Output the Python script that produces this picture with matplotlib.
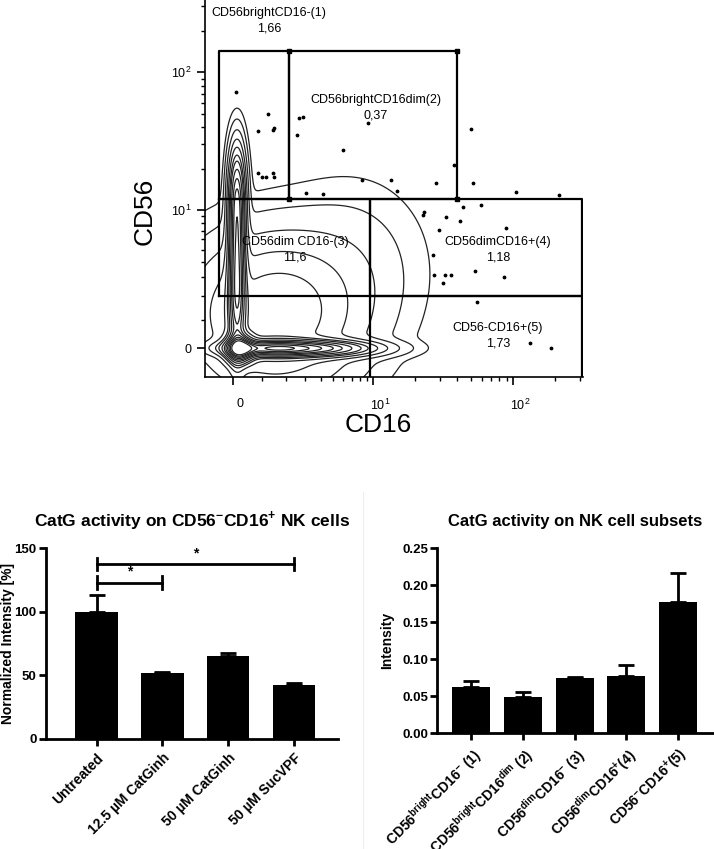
import numpy as np
import matplotlib
matplotlib.use("Agg")
import matplotlib.pyplot as plt
import matplotlib.transforms as mtransforms
from matplotlib.lines import Line2D

plt.rcParams['font.family'] = ['Liberation Sans', 'DejaVu Sans']
plt.rcParams['mathtext.fontset'] = 'custom'
plt.rcParams['mathtext.rm'] = 'Liberation Sans'
plt.rcParams['mathtext.bf'] = 'Liberation Sans:bold'

# ---------------- data ----------------
# flow cytometry gates (CD16 range, CD56 range)
gate_names = ["CD56brightCD16-(1)", "CD56brightCD16dim(2)", "CD56dim CD16-(3)",
              "CD56dimCD16+(4)", "CD56-CD16+(5)"]
gate_pcts = ["1,66", "0,37", "11,6", "1,18", "1,73"]
gate_cd16 = [(-0.46, 2.1), (2.1, 40), (-0.46, 9.5), (9.5, 310), (9.5, 310)]
gate_cd56 = [(12, 143), (12, 143), (2.0, 12), (2.0, 12), (-1.3, 2.0)]

# cell populations (centre / spread in log-decades of the display, relative weight)
pop_u = [0.03, 0.03, 0.03, 0.25, 0.60, 0.05, 0.30, 0.85]
pop_v = [0.35, 0.80, 1.15, 0.00, 0.00, 0.00, 0.25, 0.60]
pop_su = [0.035, 0.035, 0.035, 0.20, 0.25, 0.06, 0.35, 0.30]
pop_sv = [0.25, 0.25, 0.20, 0.035, 0.035, 0.06, 0.33, 0.35]
pop_w = [0.8, 0.8, 0.6, 1.0, 0.8, 1.5, 0.30, 0.04]
contour_levels = [0.0084, 0.025, 0.063, 0.126, 0.21, 0.32, 0.42, 0.57, 0.74, 0.9,
                  1.1, 1.3, 1.5, 1.75]

# single events outside the contours
event_cd16 = [0.10, 1.23, 0.86, 1.40, 1.45, 2.52, 2.63, 2.87, 5.92, 9.16, 0.86, 1.00,
              1.16, 1.42, 1.45, 8.22, 13.4, 14.8, 28.2, 37.9, 51.5, 105, 214, 49.9,
              3.05, 4.19, 23.2, 22.8, 33.2, 44.2, 59.0, 41.8, 29.8, 88.9, 26.7, 27.4,
              31.8, 32.9, 36.1, 53.6, 86.3, 55.0, 186, 132]
event_cd56 = [72.3, 49.6, 37.6, 38.2, 39.7, 35.1, 46.4, 47.2, 27.3, 43.1, 18.5, 17.5,
              17.3, 18.5, 17.5, 16.5, 16.5, 13.8, 15.7, 21.3, 15.7, 13.5, 12.8, 38.8,
              13.3, 13.1, 9.7, 9.15, 8.8, 10.4, 10.8, 8.2, 7.05, 7.3, 4.53, 3.1,
              2.63, 3.1, 3.1, 3.38, 3.0, 1.72, 0.0, 0.17]

# bar chart 1
treatments = ["Untreated", "12.5 µM CatGinh", "50 µM CatGinh", "50 µM SucVPF"]
norm_intensity = [100, 51.7, 65.6, 42.2]
norm_err = [13.5, 1.3, 2.3, 1.6]
sig_pairs = [(0, 1, 123, "*"), (0, 3, 137.7, "*")]

# bar chart 2
subsets = [r"CD56$^{\mathbf{bright}}$CD16$^{\mathbf{-}}$ (1)",
           r"CD56$^{\mathbf{bright}}$CD16$^{\mathbf{dim}}$ (2)",
           r"CD56$^{\mathbf{dim}}$CD16$^{\mathbf{-}}$ (3)",
           r"CD56$^{\mathbf{dim}}$CD16$^{\mathbf{+}}$(4)",
           r"CD56$^{\mathbf{-}}$CD16$^{\mathbf{+}}$(5)"]
subset_intensity = [0.0631, 0.0495, 0.0752, 0.0775, 0.177]
subset_err = [0.0081, 0.0068, 0.0014, 0.0148, 0.040]


# biexponential-like display scale of the cytometer
def fwd(a):
    return np.arcsinh(np.asarray(a, dtype=float) / 2) / np.log(10)


def inv(u):
    return 2 * np.sinh(np.asarray(u, dtype=float) * np.log(10))


fig = plt.figure(figsize=(7.14, 8.49), dpi=100)

# ---------------- flow plot ----------------
ax = fig.add_axes([0.287, 0.556, 0.5294, 0.444])
ax.set_xscale('function', functions=(fwd, inv))
ax.set_yscale('function', functions=(fwd, inv))

U, V = np.meshgrid(np.linspace(-0.3, 2.7, 500), np.linspace(-0.3, 2.7, 500))
Z = np.zeros_like(U)
for uc, vc, su, sv, w in zip(pop_u, pop_v, pop_su, pop_sv, pop_w):
    Z += w * np.exp(-0.5 * ((U - uc) / su) ** 2 - 0.5 * ((V - vc) / sv) ** 2)
ax.contour(inv(U), inv(V), Z, levels=contour_levels, colors='#222222', linewidths=0.9)

ax.scatter(event_cd16, event_cd56, s=3, color='black', zorder=3)

for (x0, x1), (y0, y1) in zip(gate_cd16, gate_cd56):
    ax.plot([x0, x1, x1, x0, x0], [y0, y0, y1, y1, y0], color='black', lw=1.6, zorder=4)
# corner handles of gate 2
gx, gy = gate_cd16[1], gate_cd56[1]
ax.plot([gx[0], gx[1], gx[0], gx[1]], [gy[0], gy[0], gy[1], gy[1]], 's',
        color='black', ms=3.5, zorder=5)

label_pos = [(0.169, 0.9655), (0.452, 0.735), (0.238, 0.358), (0.775, 0.358), (0.775, 0.130)]
for (tx, ty), name, pct in zip(label_pos, gate_names, gate_pcts):
    ax.text(tx, ty, name, transform=ax.transAxes, ha='center', va='center', fontsize=9)
    ax.text(tx, ty - 0.041, pct, transform=ax.transAxes, ha='center', va='center', fontsize=9)

ax.set_xlim(-0.95, 316)
ax.set_ylim(-0.99, 334)
major = [0, 10, 100]
minor = [1, 2, 3, 4, 5, 6, 7, 8, 9, 20, 30, 40, 50, 60, 70, 80, 90, 200, 300]
ax.set_xticks(major)
ax.set_xticklabels(['0', r'$10^1$', r'$10^2$'])
ax.set_xticks(minor, minor=True)
ax.set_xticklabels([], minor=True)
ax.set_yticks(major)
ax.set_yticklabels(['0', r'$10^1$', r'$10^2$'])
ax.set_yticks(minor, minor=True)
ax.set_yticklabels([], minor=True)
ax.tick_params(which='major', length=6, width=1.2, labelsize=9)
ax.tick_params(axis='x', which='major', pad=9)
ax.tick_params(which='minor', length=3, width=1.0)
# x tick labels sit a little to the right of their ticks
shift = mtransforms.ScaledTranslation(5 / 72, 0, fig.dpi_scale_trans)
for lab in ax.get_xticklabels():
    lab.set_transform(lab.get_transform() + shift)
for s in ['top', 'right']:
    ax.spines[s].set_visible(False)
for s in ['left', 'bottom']:
    ax.spines[s].set_linewidth(1.2)
ax.set_xlabel('CD16', fontsize=19)
ax.xaxis.set_label_coords(0.458, -0.095)
ax.set_ylabel('CD56', fontsize=19)
ax.yaxis.set_label_coords(-0.127, 0.438)


def style_bar_axes(a):
    for s in ['top', 'right']:
        a.spines[s].set_visible(False)
    for s in ['left', 'bottom']:
        a.spines[s].set_linewidth(2.0)
    a.tick_params(length=5, width=2.0, labelsize=10)
    a.tick_params(axis='y', pad=1.5, labelsize=9.5)
    for lab in a.get_yticklabels():
        lab.set_fontweight('bold')


# ---------------- bar chart 1 ----------------
ax1 = fig.add_axes([0.064, 0.1296, 0.409, 0.2246])
x1 = np.arange(len(treatments))
ax1.bar(x1, norm_intensity, width=0.65, color='black')
ax1.errorbar(x1, norm_intensity, yerr=[np.zeros(len(x1)), norm_err], fmt='none',
             ecolor='black', elinewidth=2, capsize=6, capthick=2)
for i, j, h, lab in sig_pairs:
    ax1.plot([x1[i], x1[j]], [h, h], color='black', lw=2)
    ax1.plot([x1[i], x1[i]], [h - 5, h + 5], color='black', lw=2)
    ax1.plot([x1[j], x1[j]], [h - 5, h + 5], color='black', lw=2)
    ax1.text((x1[i] + x1[j]) / 2, h + 3, lab, ha='center', va='bottom',
             fontsize=10, fontweight='bold')
ax1.set_xlim(-0.775, 3.667)
ax1.set_ylim(0, 150)
ax1.set_yticks([0, 50, 100, 150])
ax1.set_xticks(x1)
ax1.set_xticklabels(treatments, rotation=45, ha='right', rotation_mode='anchor',
                    fontweight='bold')
style_bar_axes(ax1)
ax1.set_ylabel('Normalized Intensity [%]', fontsize=10, fontweight='bold')
ax1.yaxis.set_label_coords(-0.104, 0.5)
ax1.set_title(r'CatG activity on CD56$^{\mathbf{-}}$CD16$^{\mathbf{+}}$ NK cells',
              fontsize=12.5, fontweight='bold', pad=16)

# ---------------- bar chart 2 ----------------
ax2 = fig.add_axes([0.6125, 0.1363, 0.386, 0.2179])
x2 = np.arange(len(subsets))
ax2.bar(x2, subset_intensity, width=0.74, color='black')
ax2.errorbar(x2, subset_intensity, yerr=[np.zeros(len(x2)), subset_err], fmt='none',
             ecolor='black', elinewidth=2, capsize=6, capthick=2)
ax2.set_xlim(-0.66, 4.68)
ax2.set_ylim(0, 0.25)
ax2.set_yticks([0, 0.05, 0.10, 0.15, 0.20, 0.25])
ax2.set_yticklabels(['0.00', '0.05', '0.10', '0.15', '0.20', '0.25'])
ax2.set_xticks(x2)
ax2.set_xticklabels(subsets, rotation=45, ha='right', rotation_mode='anchor',
                    fontweight='bold', fontsize=9.3)
style_bar_axes(ax2)
ax2.set_ylabel('Intensity', fontsize=10, fontweight='bold')
ax2.yaxis.set_label_coords(-0.155, 0.5)
ax2.set_title('CatG activity on NK cell subsets', fontsize=12, fontweight='bold', pad=16)

# faint separator between the two bar panels
fig.add_artist(Line2D([0.508, 0.508], [0.0, 0.42], color='#eeeeee', lw=0.8))

fig.savefig('out.png', dpi=100)
